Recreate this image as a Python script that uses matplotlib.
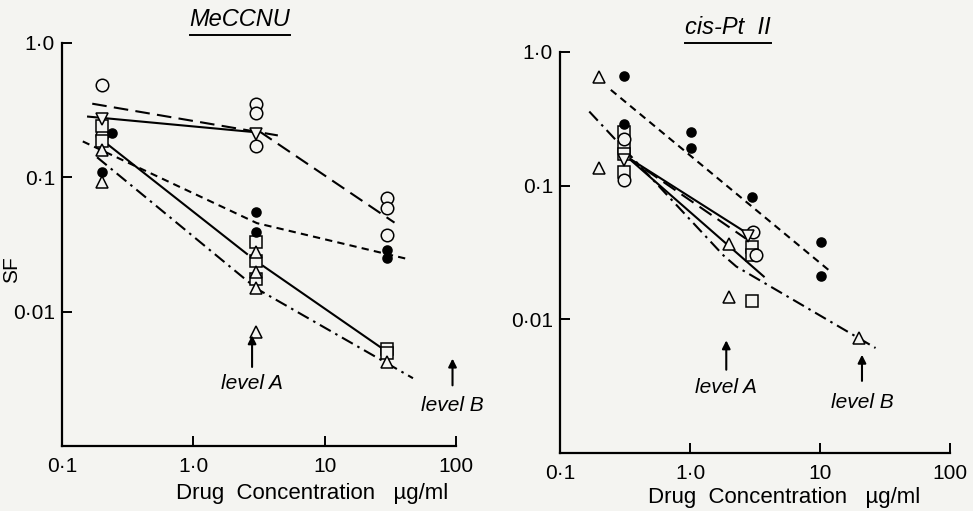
import matplotlib
matplotlib.use("Agg")
import matplotlib.pyplot as plt
from matplotlib.lines import Line2D

plt.rcParams['font.family'] = ['Liberation Sans', 'DejaVu Sans']

# ---------------- MeCCNU (left panel) ----------------
mec_open_circle_x = [0.2, 0.2, 3, 3, 3, 30, 30, 30]
mec_open_circle_y = [0.49, 0.205, 0.35, 0.30, 0.17, 0.07, 0.059, 0.037]
mec_filled_x = [0.24, 0.2, 3, 3, 30, 30]
mec_filled_y = [0.215, 0.11, 0.055, 0.039, 0.029, 0.025]
mec_square_x = [0.2, 0.2, 3, 3, 3, 30, 30]
mec_square_y = [0.24, 0.185, 0.033, 0.024, 0.0175, 0.0053, 0.0049]
mec_tri_x = [0.2, 0.2, 3, 3, 3, 3, 30]
mec_tri_y = [0.16, 0.093, 0.028, 0.0198, 0.015, 0.0071, 0.0042]
mec_dtri_x = [0.2, 3]
mec_dtri_y = [0.27, 0.21]

# fitted lines (x, y pairs)
mec_longdash_1 = ([0.17, 4.4], [0.353, 0.205])
mec_longdash_2 = ([3.2, 34], [0.219, 0.046])
mec_solid_1 = ([0.158, 3.05], [0.283, 0.216])
mec_solid_2a = ([0.2, 2.56], [0.191, 0.0269])
mec_solid_2b = ([3.4, 30.4], [0.0219, 0.00497])
mec_shortdash = ([0.144, 3.05, 42.5], [0.185, 0.0456, 0.0247])
mec_dashdot = ([0.185, 3.05, 47], [0.141, 0.0148, 0.0032])

mec_level_a = 2.8
mec_level_b = 94

# ---------------- cis-Pt II (right panel) ----------------
pt_tri_x = [0.2, 0.2, 2, 2, 20]
pt_tri_y = [0.65, 0.135, 0.0367, 0.0148, 0.0073]
pt_filled_x = [0.31, 0.31, 1.02, 1.02, 3.0, 10.1, 10.1]
pt_filled_y = [0.66, 0.29, 0.25, 0.19, 0.082, 0.038, 0.0212]
pt_square_x = [0.31, 0.31, 0.31, 0.31, 3.0, 3.0, 3.0]
pt_square_y = [0.25, 0.193, 0.172, 0.126, 0.035, 0.030, 0.0136]
pt_circle_x = [0.31, 0.31, 3.05, 3.2]
pt_circle_y = [0.222, 0.11, 0.045, 0.030]
pt_dtri_x = [0.31, 2.8]
pt_dtri_y = [0.155, 0.042]

pt_shortdash = ([0.246, 11.8], [0.52, 0.0231])
pt_dashdot = ([0.168, 1.81, 2.27, 26.7], [0.358, 0.030, 0.0248, 0.0061])
pt_solid_a = ([0.33, 2.56], [0.163, 0.046])
pt_solid_b = ([0.33, 3.69], [0.163, 0.0209])
pt_longdash = ([0.33, 2.7], [0.163, 0.040])

pt_level_a = 1.9
pt_level_b = 21

BG = '#f4f4f1'
LONG = (0, (7, 3.5))
SHORT = (0, (3.5, 2.5))
DASHDOT = (0, (6, 2.5, 1.2, 2.5))


def markers(ax, x, y, m, ms, filled=False):
    fc = 'black' if filled else BG
    ax.plot(x, y, linestyle='none', marker=m, ms=ms, mfc=fc, mec='black', mew=1.1, zorder=3)


def setup_axes(ax):
    ax.set_xscale('log')
    ax.set_yscale('log')
    ax.set_xlim(0.1, 100)
    ax.set_ylim(0.001, 1.0)
    ax.set_facecolor(BG)
    ax.spines['top'].set_visible(False)
    ax.spines['right'].set_visible(False)
    for s in ('left', 'bottom'):
        ax.spines[s].set_linewidth(1.6)
    ax.set_xticks([0.1, 1, 10, 100])
    ax.set_xticklabels(['0·1', '1·0', '10', '100'])
    ax.set_yticks([1.0, 0.1, 0.01])
    ax.set_yticklabels(['1·0', '0·1', '0·01'])
    ax.minorticks_off()
    ax.tick_params(direction='in', length=7, width=1.4, labelsize=15, pad=5)
    ax.tick_params(axis='x', pad=8)


fig = plt.figure(figsize=(9.73, 5.11), dpi=100, facecolor=BG)

ax1 = fig.add_axes([0.0637, 0.127, 0.405, 0.789])
ax2 = fig.add_axes([0.5755, 0.1135, 0.401, 0.785])
setup_axes(ax1)
setup_axes(ax2)

lw = 1.5
ax1.plot(*mec_longdash_1, 'k', ls=LONG, lw=lw)
ax1.plot(*mec_longdash_2, 'k', ls=LONG, lw=lw)
ax1.plot(*mec_solid_1, 'k-', lw=lw)
ax1.plot(*mec_solid_2a, 'k-', lw=lw)
ax1.plot(*mec_solid_2b, 'k-', lw=lw)
ax1.plot(*mec_shortdash, 'k', ls=SHORT, lw=lw)
ax1.plot(*mec_dashdot, 'k', ls=DASHDOT, lw=lw)

markers(ax1, mec_open_circle_x, mec_open_circle_y, 'o', 9)
markers(ax1, mec_square_x, mec_square_y, 's', 8)
markers(ax1, mec_tri_x, mec_tri_y, '^', 8)
markers(ax1, mec_dtri_x, mec_dtri_y, 'v', 8)
markers(ax1, mec_filled_x, mec_filled_y, 'o', 6.5, filled=True)

ax2.plot(*pt_shortdash, 'k', ls=SHORT, lw=lw)
ax2.plot(*pt_dashdot, 'k', ls=DASHDOT, lw=lw)
ax2.plot(*pt_solid_a, 'k-', lw=lw)
ax2.plot(*pt_solid_b, 'k-', lw=lw)
ax2.plot(*pt_longdash, 'k', ls=LONG, lw=lw)

markers(ax2, pt_tri_x, pt_tri_y, '^', 8)
markers(ax2, pt_square_x, pt_square_y, 's', 8)
markers(ax2, pt_circle_x, pt_circle_y, 'o', 9)
markers(ax2, pt_dtri_x, pt_dtri_y, 'v', 8)
markers(ax2, pt_filled_x, pt_filled_y, 'o', 6.5, filled=True)

# level arrows
arrow = dict(arrowstyle='-|>', color='black', lw=1.5, mutation_scale=12)
ax1.annotate('', xy=(mec_level_a, 0.0070), xytext=(mec_level_a, 0.0037), arrowprops=arrow)
ax1.text(mec_level_a, 0.0029, 'level A', style='italic', fontsize=15, ha='center', va='center')
ax1.annotate('', xy=(mec_level_b, 0.0047), xytext=(mec_level_b, 0.0027), arrowprops=arrow)
ax1.text(mec_level_b, 0.0020, 'level B', style='italic', fontsize=15, ha='center', va='center')

ax2.annotate('', xy=(pt_level_a, 0.0073), xytext=(pt_level_a, 0.0040), arrowprops=arrow)
ax2.text(pt_level_a, 0.0031, 'level A', style='italic', fontsize=15, ha='center', va='center')
ax2.annotate('', xy=(pt_level_b, 0.0057), xytext=(pt_level_b, 0.0033), arrowprops=arrow)
ax2.text(pt_level_b, 0.0024, 'level B', style='italic', fontsize=15, ha='center', va='center')

fig.text(12 / 973, 1 - 270 / 511, 'SF', rotation=90, fontsize=15, ha='center', va='center')
fig.text(312 / 973, 1 - 493 / 511, 'Drug  Concentration   µg/ml', fontsize=16, ha='center', va='center')
fig.text(784 / 973, 1 - 497 / 511, 'Drug  Concentration   µg/ml', fontsize=16, ha='center', va='center')

t1 = fig.text(240 / 973, 1 - 20 / 511, 'MeCCNU', style='italic', fontsize=17, ha='center', va='center')
t2 = fig.text(728 / 973, 1 - 28 / 511, 'cis-Pt  II', style='italic', fontsize=17, ha='center', va='center')

# underline the titles
renderer = fig.canvas.get_renderer()
for t in (t1, t2):
    bb = t.get_window_extent(renderer).transformed(fig.transFigure.inverted())
    fig.add_artist(Line2D([bb.x0, bb.x1], [bb.y0 - 0.006, bb.y0 - 0.006],
                          transform=fig.transFigure, color='black', lw=1.4))

fig.savefig('out.png', dpi=100, facecolor=BG)
